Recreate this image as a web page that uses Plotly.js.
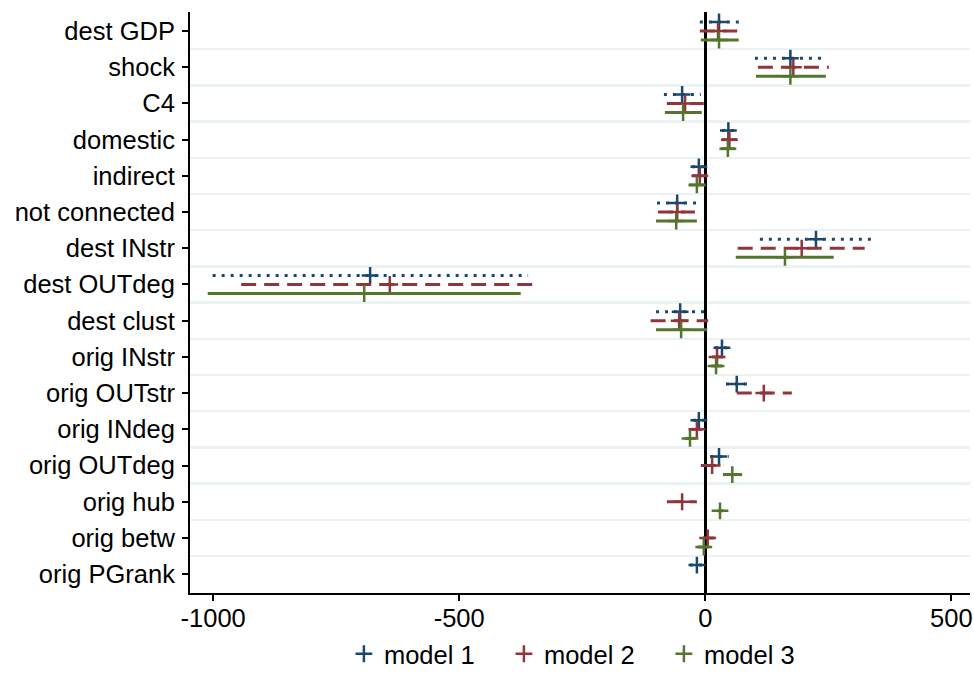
<!DOCTYPE html>
<html>
<head>
<meta charset="utf-8">
<script src="https://cdn.plot.ly/plotly-3.0.1.min.js"></script>
<style>html,body{margin:0;padding:0;background:#fff;}#chart{width:974px;height:685px;}</style>
</head>
<body>
<div id="chart"></div>
<script>
// Categories (top to bottom)
const categories = ["dest GDP","shock","C4","domestic","indirect","not connected","dest INstr","dest OUTdeg","dest clust","orig INstr","orig OUTstr","orig INdeg","orig OUTdeg","orig hub","orig betw","orig PGrank"];

// model 1: point estimates and confidence bounds
const m1_est = [28, 173, -47, 47, -13, -57, 225, -681, -51, 34, 64, -13, 28, null, null, -17];
const m1_lo  = [-11, 101, -84, 34, -27, -98, 111, -1001, -100, 20, 42, -25, 10, null, null, -31];
const m1_hi  = [70, 238, -9, 60, 0, -17, 339, -360, 0, 46, 87, 0, 48, null, null, -5];

// model 2
const m2_est = [26, 179, -41, 49, -11, -57, 196, -641, -53, 24, 119, -17, 14, -47, 5, null];
const m2_lo  = [-11, 107, -78, 34, -27, -96, 66, -943, -111, 14, 64, -29, -9, -78, -5, null];
const m2_hi  = [65, 251, -3, 65, 3, -21, 324, -338, 6, 36, 176, -7, 38, -17, 18, null];

// model 3
const m3_est = [28, 173, -45, 46, -17, -59, 162, -693, -49, 22, null, -31, 55, 30, -3, null];
const m3_lo  = [-9, 103, -82, 32, -33, -100, 62, -1011, -100, 12, null, -41, 36, 25, -15, null];
const m3_hi  = [68, 245, -7, 60, 1, -17, 261, -375, 4, 34, null, -19, 75, 36, 8, null];

const modelNames = ["model 1","model 2","model 3"];
const colors = ["#1a476f","#90353b","#55752f"];
const dashes = ["3px,6px","15px,8px","solid"];
const offsets = [-0.25, 0, 0.25];
const models = [[m1_est,m1_lo,m1_hi],[m2_est,m2_lo,m2_hi],[m3_est,m3_lo,m3_hi]];

const traces = [];
models.forEach((m, k) => {
  const [est, lo, hi] = m;
  const lx = [], ly = [], px = [], py = [];
  categories.forEach((c, i) => {
    if (est[i] === null) return;
    lx.push(lo[i], hi[i], null);
    ly.push(i + offsets[k], i + offsets[k], null);
    px.push(est[i]);
    py.push(i + offsets[k]);
  });
  traces.push({
    type: "scatter", mode: "lines", x: lx, y: ly, showlegend: false, hoverinfo: "skip",
    line: {color: colors[k], width: 3, dash: dashes[k]}
  });
  traces.push({
    type: "scatter", mode: "markers", x: px, y: py, name: modelNames[k],
    marker: {symbol: "cross-thin", size: 12, color: colors[k], line: {color: colors[k], width: 2.5}}
  });
});

const font = {family: "Liberation Sans, Arial, sans-serif", size: 25.5, color: "#000"};
const gridVals = categories.slice(0, -1).map((c, i) => i + 0.5);

const layout = {
  width: 974, height: 685,
  margin: {l: 190, r: 4, t: 12, b: 92},
  paper_bgcolor: "#fff", plot_bgcolor: "#fff",
  font: font,
  showlegend: true,
  legend: {orientation: "h", x: 0.505, xanchor: "center", yref: "container", y: 0.045, yanchor: "middle",
           font: font, entrywidth: 115, traceorder: "normal", bgcolor: "rgba(0,0,0,0)"},
  xaxis: {
    range: [-1047, 538], tickvals: [-1000, -500, 0, 500], ticktext: ["-1000","-500","0","500"],
    showgrid: false, zeroline: true, zerolinecolor: "#000", zerolinewidth: 3,
    showline: true, linecolor: "#000", linewidth: 2, ticks: "outside", ticklen: 6, tickwidth: 2, tickcolor: "#000",
    ticklabelstandoff: -5,
    layer: "above traces", tickfont: font, fixedrange: true, automargin: false
  },
  yaxis: {
    range: [15.52, -0.525], tickvals: categories.map((c, i) => i), ticktext: categories,
    showgrid: false, zeroline: false, showline: true, linecolor: "#000", linewidth: 2,
    ticks: "outside", ticklen: 6, tickwidth: 2, tickcolor: "#000", tickfont: font,
    ticklabelstandoff: 2,
    minor: {tickmode: "array", tickvals: gridVals, showgrid: true, gridcolor: "#eaf2f3", gridwidth: 2.5, ticks: ""},
    fixedrange: true, automargin: false
  }
};

Plotly.newPlot("chart", traces, layout, {displayModeBar: false, staticPlot: true});
</script>
</body>
</html>
